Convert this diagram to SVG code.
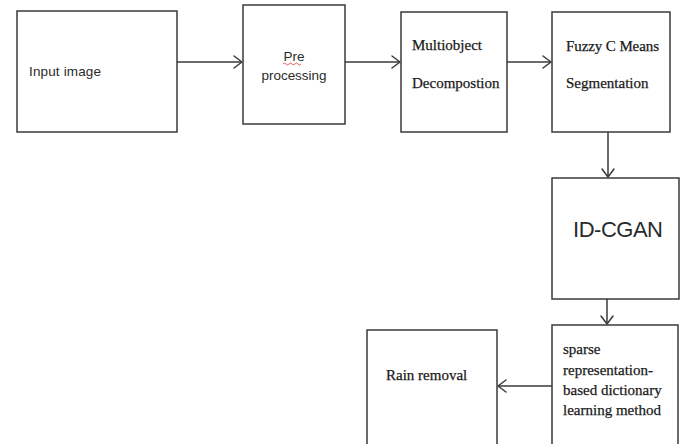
<svg xmlns="http://www.w3.org/2000/svg" width="682" height="444" viewBox="0 0 682 444">
<defs>
<style>
.box{fill:#fff;stroke:#3a3a3a;stroke-width:1.5}
.sans{font-family:"Liberation Sans","Open Sans",sans-serif;fill:#2a2a2a}
.serif{font-family:"Liberation Serif","Times New Roman",serif;fill:#1a1a1a;font-size:15px;stroke:#1a1a1a;stroke-width:0.25}
.conn{stroke:#3a3a3a;stroke-width:1.5;fill:none}
.head{stroke:#3a3a3a;stroke-width:1.5;fill:none;stroke-linecap:round;stroke-linejoin:round}
</style>
</defs>
<rect width="682" height="444" fill="#fff"/>
<g id="connectors">
<line class="conn" x1="177" y1="62" x2="242" y2="62"/>
<polyline class="head" points="234,56 242,62 234,68"/>
<line class="conn" x1="345" y1="62" x2="400" y2="62"/>
<polyline class="head" points="392,56 400,62 392,68"/>
<line class="conn" x1="507" y1="62" x2="551" y2="62"/>
<polyline class="head" points="543,56 551,62 543,68"/>
<line class="conn" x1="608" y1="132" x2="608" y2="177"/>
<polyline class="head" points="602,169 608,177 614,169"/>
<line class="conn" x1="607" y1="299" x2="607" y2="324"/>
<polyline class="head" points="601,316 607,324 613,316"/>
<line class="conn" x1="552" y1="386" x2="498" y2="386"/>
<polyline class="head" points="506,380 498,386 506,392"/>
</g>
<g id="input-image">
<rect class="box" x="17" y="11" width="160" height="121"/>
<text class="sans" x="29" y="76" font-size="13.5" textLength="72">Input image</text>
</g>
<g id="pre-processing">
<rect class="box" x="243" y="5" width="102" height="119"/>
<text class="sans" x="294" y="61" font-size="13.5" text-anchor="middle">Pre</text>
<path d="M283,64 q1.5,-2 3,0 t3,0 t3,0 t3,0 t3,0 t3,0" stroke="#d33" stroke-width="0.8" fill="none"/>
<text class="sans" x="294" y="80" font-size="13.5" text-anchor="middle" textLength="65">processing</text>
</g>
<g id="multiobject">
<rect class="box" x="401" y="12" width="106" height="120"/>
<text class="serif" x="412" y="50">Multiobject</text>
<text class="serif" x="412" y="88">Decompostion</text>
</g>
<g id="fuzzy">
<rect class="box" x="552" y="12" width="118" height="120"/>
<text class="serif" x="566" y="51" textLength="93">Fuzzy C Means</text>
<text class="serif" x="566" y="88">Segmentation</text>
</g>
<g id="id-cgan">
<rect class="box" x="552" y="178" width="127" height="121"/>
<text class="sans" x="618" y="237" font-size="22" text-anchor="middle" textLength="90">ID-CGAN</text>
</g>
<g id="sparse">
<rect class="box" x="552" y="325" width="126" height="125"/>
<text class="serif" x="563" y="354">sparse</text>
<text class="serif" x="563" y="375">representation-</text>
<text class="serif" x="563" y="395">based dictionary</text>
<text class="serif" x="563" y="415">learning method</text>
</g>
<g id="rain-removal">
<rect class="box" x="367" y="330" width="130" height="120"/>
<text class="serif" x="386" y="380">Rain removal</text>
</g>
</svg>
